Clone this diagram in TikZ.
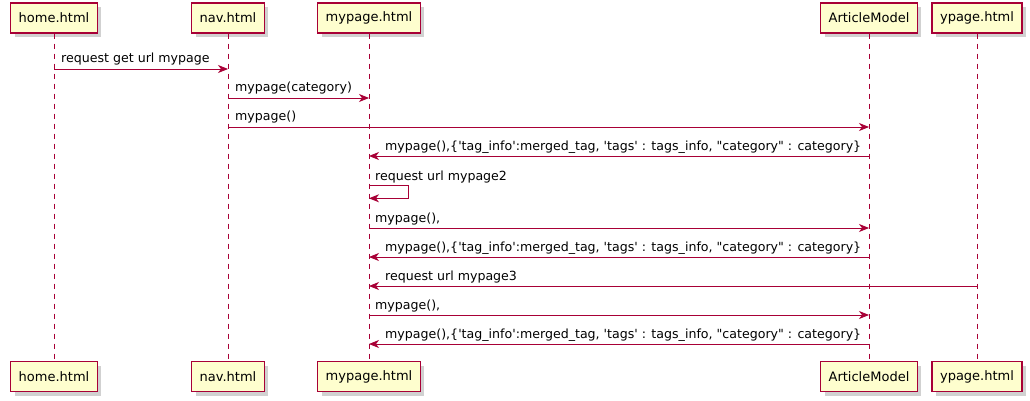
\documentclass[tikz,border=0pt]{standalone}
\usepackage{fontspec}
\setmainfont{DejaVu Sans}[Ligatures=TeXOff]
\usetikzlibrary{arrows.meta,shadows}
\definecolor{umlred}{HTML}{A80036}
\definecolor{umlfill}{HTML}{FEFECE}
\tikzset{
  part/.style={draw=umlred, line width=1.2pt, fill=umlfill, minimum height=30pt, inner xsep=8pt, inner ysep=0pt,
    font=\fontsize{13}{15}\selectfont, drop shadow={shadow xshift=4pt, shadow yshift=-4pt, opacity=0.3, fill=black!60}},
  life/.style={draw=umlred, line width=0.8pt, dash pattern=on 5pt off 5pt},
  msg/.style={draw=umlred, line width=0.9pt, -{Stealth[length=10pt,width=8pt,inset=3pt]}},
  lbl/.style={font=\fontsize{12.6}{15}\selectfont, inner sep=0pt},
}
\begin{document}
\begin{tikzpicture}[x=1pt,y=-1pt]
\useasboundingbox (0,0) rectangle (1030,401);
% top participants
\node[part] (homeT) at (54,18) {home.html};
\node[part] (navT) at (228,18) {nav.html};
\node[part] (myT) at (369,18) {mypage.html};
\node[part] (artT) at (869,18) {ArticleModel};
\node[part] (ypT) at (977,18) {ypage.html};
% bottom participants
\node[part] (homeB) at (54,376.5) {home.html};
\node[part] (navB) at (228,376.5) {nav.html};
\node[part] (myB) at (369,376.5) {mypage.html};
\node[part] (artB) at (869,376.5) {ArticleModel};
\node[part] (ypB) at (977,376.5) {ypage.html};
% lifelines
\foreach \p in {home,nav,my,art,yp}{
  \draw[life] (\p T.south) -- (\p B.north);
}
% messages
\draw[msg] (homeT |- 0,69) -- (navT |- 0,69);
\node[lbl, anchor=base west] (l1) at (61,63) {request get url mypage};
\draw[msg] (navT |- 0,98) -- (myT |- 0,98);
\node[lbl, anchor=base west] (l2) at (235,92) {mypage(category)};
\draw[msg] (navT |- 0,127) -- (artT |- 0,127);
\node[lbl, anchor=base west] (l3) at (235,121) {mypage()};
\draw[msg] (artT |- 0,156) -- (myT |- 0,156);
\node[lbl, anchor=base west] (l4) at (385,150) {mypage(),\{'tag\_info':merged\_tag, 'tags' : tags\_info, "category" : category\}};
\coordinate (selfA) at (408,185.7);
\coordinate (selfB) at (408,198.3);
\draw[msg] (myT |- 0,185.7) -- (selfA) -- (selfB) -- (myT |- selfB);
\node[lbl, anchor=base west] (l5) at (375,180.5) {request url mypage2};
\draw[msg] (myT |- 0,228) -- (artT |- 0,228);
\node[lbl, anchor=base west] (l6) at (375,222) {mypage(),};
\draw[msg] (artT |- 0,257) -- (myT |- 0,257);
\node[lbl, anchor=base west] (l7) at (385,251) {mypage(),\{'tag\_info':merged\_tag, 'tags' : tags\_info, "category" : category\}};
\draw[msg] (ypT |- 0,286) -- (myT |- 0,286);
\node[lbl, anchor=base west] (l8) at (385,280) {request url mypage3};
\draw[msg] (myT |- 0,315) -- (artT |- 0,315);
\node[lbl, anchor=base west] (l9) at (375,309) {mypage(),};
\draw[msg] (artT |- 0,344) -- (myT |- 0,344);
\node[lbl, anchor=base west] (l10) at (385,338) {mypage(),\{'tag\_info':merged\_tag, 'tags' : tags\_info, "category" : category\}};
\end{tikzpicture}
\end{document}
